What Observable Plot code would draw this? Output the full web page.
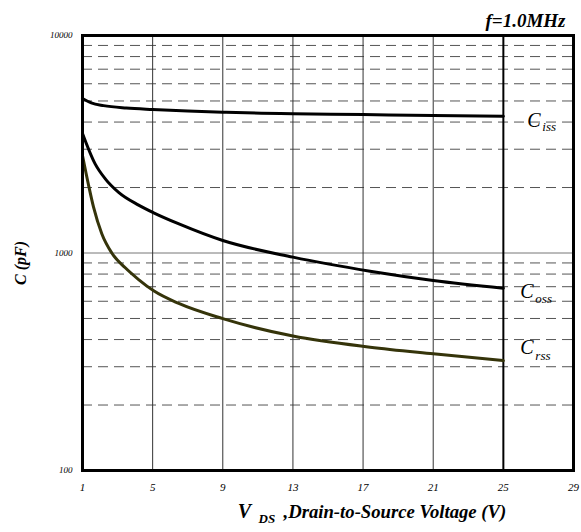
<!DOCTYPE html>
<html>
<head>
<meta charset="utf-8">
<script src="https://cdn.jsdelivr.net/npm/d3@7"></script>
<script src="https://cdn.jsdelivr.net/npm/@observablehq/plot@0.6"></script>
<style>
  html, body { margin: 0; padding: 0; background: #fff; }
  #chart svg { display: block; }
</style>
</head>
<body>
<div id="chart"></div>
<script>
// ---- data ----
const vCiss = [1, 1.5, 2.2, 3.5, 5, 7, 9, 11.2, 13, 17, 21, 25];
const ciss  = [5130, 4900, 4760, 4640, 4570, 4500, 4440, 4390, 4370, 4330, 4290, 4256];

const vCoss = [1, 1.72, 2.3, 3.06, 4.2, 5.06, 6.5, 9, 13, 17.4, 21, 25];
const coss  = [3546, 2570, 2193, 1900, 1660, 1530, 1360, 1141, 957, 825, 748, 689];

const vCrss = [1, 1.34, 1.63, 2.1, 2.67, 3.44, 4.2, 5.06, 6.49, 9, 13, 17.4, 21, 25];
const crss  = [2805, 2060, 1624, 1226, 1000, 855, 755, 670, 586, 499, 415, 369, 344, 320];

const xTicks = [1, 5, 9, 13, 17, 21, 25, 29];
const yTicks = [100, 1000, 10000];
const xGrid = [5, 9, 13, 17, 21];
const xGridBold = [25];
const yGridSolid = [1000];
const yGridDashed = [200, 300, 400, 500, 600, 700, 800, 900, 2000, 3000, 4000, 5000, 6000, 7000, 8000, 9000];

const toRows = (xs, ys, name) => xs.map((x, i) => ({v: x, c: ys[i], name}));
const rows = [
  ...toRows(vCiss, ciss, "iss"),
  ...toRows(vCoss, coss, "oss"),
  ...toRows(vCrss, crss, "rss")
];
const series = name => rows.filter(d => d.name === name);
const last = name => series(name).slice(-1);

const serif = "'Liberation Serif', 'Times New Roman', serif";
const bi = {fontWeight: "bold", fontStyle: "italic"};

const chart = Plot.plot({
  width: 581,
  height: 532,
  marginLeft: 82,
  marginRight: 8,
  marginTop: 35,
  marginBottom: 62,
  style: {fontFamily: serif, background: "#fff", color: "#000"},
  x: {domain: [1, 29], axis: null},
  y: {type: "log", domain: [100, 10000], axis: null},
  marks: [
    Plot.ruleY(yGridDashed, {stroke: "#555", strokeWidth: 1, strokeDasharray: "10,6"}),
    Plot.ruleY(yGridSolid, {stroke: "#777", strokeWidth: 1}),
    Plot.ruleX(xGrid, {stroke: "#333", strokeWidth: 1}),
    Plot.ruleX(xGridBold, {stroke: "#000", strokeWidth: 2}),
    Plot.line(series("iss"), {x: "v", y: "c", stroke: "#000", strokeWidth: 3, curve: "monotone-x"}),
    Plot.line(series("oss"), {x: "v", y: "c", stroke: "#000", strokeWidth: 3, curve: "monotone-x"}),
    Plot.line(series("rss"), {x: "v", y: "c", stroke: "#35340a", strokeWidth: 3, curve: "monotone-x"}),
    Plot.frame({stroke: "#000", strokeWidth: 3}),
    // tick labels
    Plot.axisY(yTicks, {tickSize: 0, tickPadding: 10, tickFormat: d => String(d), fontSize: 9, fontStyle: "italic", anchor: "left", label: null}),
    Plot.axisX(xTicks, {tickSize: 0, tickPadding: 13, tickFormat: d => String(d), fontSize: 11, fontStyle: "italic", anchor: "bottom", label: null}),
    // curve labels
    Plot.text(last("iss"), {x: "v", y: "c", text: () => "C", dx: 24, dy: 4, textAnchor: "start", fontSize: 20, fontStyle: "italic"}),
    Plot.text(last("iss"), {x: "v", y: "c", text: "name", dx: 39, dy: 11, textAnchor: "start", fontSize: 13, fontStyle: "italic"}),
    Plot.text(last("oss"), {x: "v", y: "c", text: () => "C", dx: 17, dy: 3, textAnchor: "start", fontSize: 20, fontStyle: "italic"}),
    Plot.text(last("oss"), {x: "v", y: "c", text: "name", dx: 32, dy: 11, textAnchor: "start", fontSize: 13, fontStyle: "italic"}),
    Plot.text(last("rss"), {x: "v", y: "c", text: () => "C", dx: 17, dy: -13, textAnchor: "start", fontSize: 20, fontStyle: "italic"}),
    Plot.text(last("rss"), {x: "v", y: "c", text: "name", dx: 32, dy: -5, textAnchor: "start", fontSize: 13, fontStyle: "italic"}),
    // titles
    Plot.text(["f=1.0MHz"], {frameAnchor: "top-right", dx: -8, dy: -22, text: d => d, fontSize: 19, textAnchor: "end", ...bi}),
    Plot.text(["C (pF)"], {frameAnchor: "left", dx: -62, dy: 10, text: d => d, rotate: -90, textAnchor: "middle", fontSize: 16, ...bi}),
    Plot.text(["V"], {frameAnchor: "bottom", dx: -83.5, dy: 47, text: d => d, textAnchor: "middle", fontSize: 20, ...bi}),
    Plot.text(["DS"], {frameAnchor: "bottom", dx: -69.5, dy: 52, text: d => d, fontSize: 13, textAnchor: "start", ...bi}),
    Plot.text([",Drain-to-Source Voltage (V)"], {frameAnchor: "bottom", dx: -44.5, dy: 47, text: d => d, fontSize: 18.7, textAnchor: "start", ...bi})
  ]
});
document.getElementById("chart").appendChild(chart);
</script>
</body>
</html>
